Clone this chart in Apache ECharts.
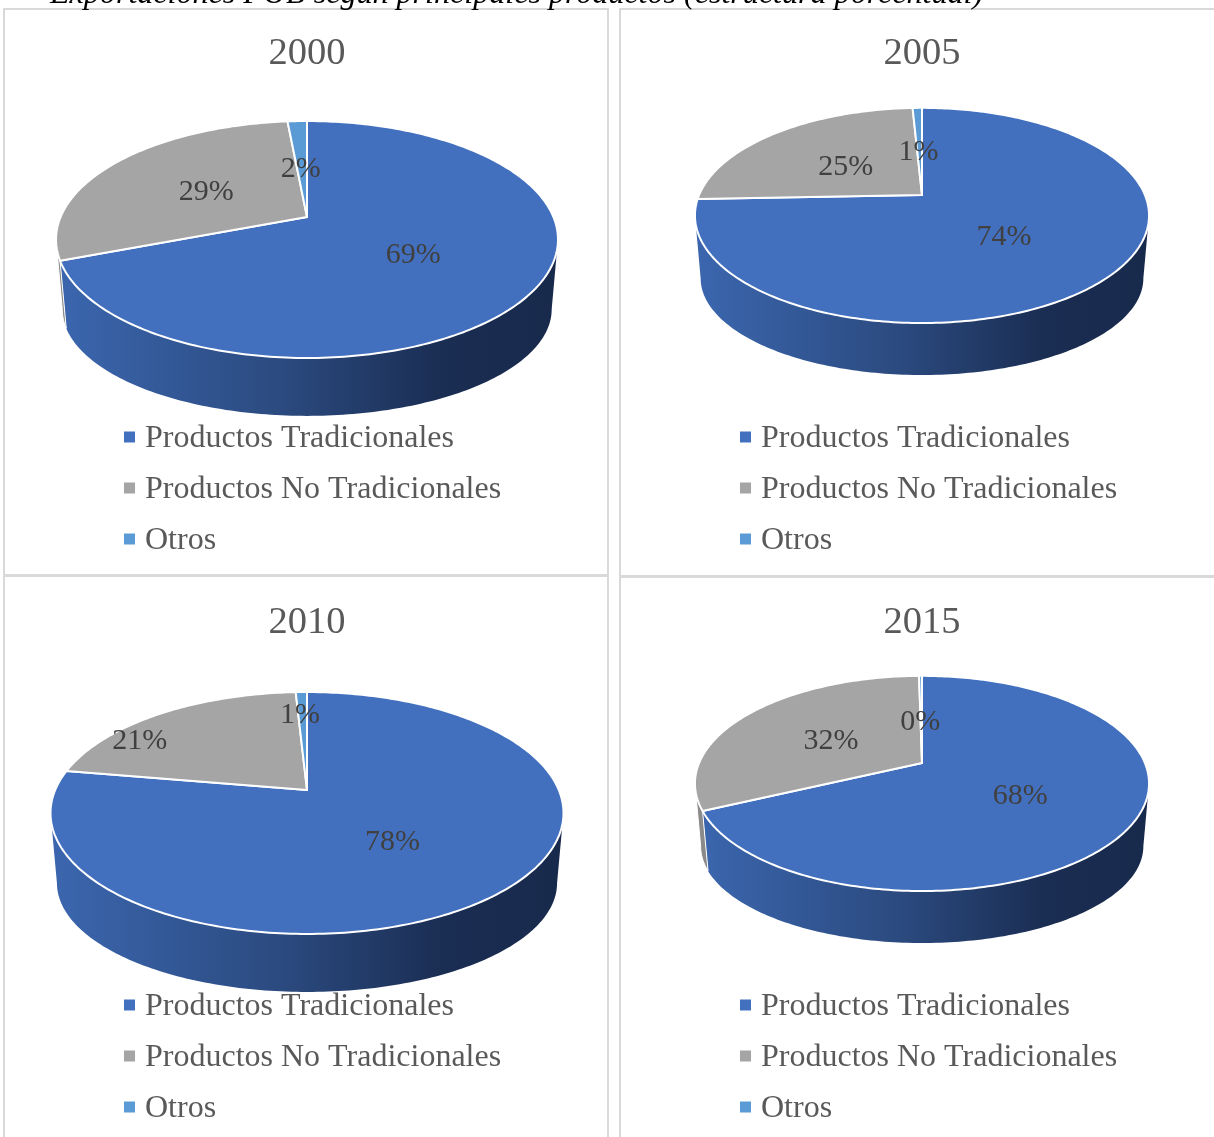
<!DOCTYPE html>
<html>
<head>
<meta charset="utf-8">
<title>Exportaciones FOB</title>
<style>
  html, body { margin: 0; padding: 0; background: #fff; overflow: hidden; }
  #chart { width: 1214px; height: 1137px; }
</style>
<script src="https://cdn.jsdelivr.net/npm/echarts@6/dist/echarts.min.js"></script>
</head>
<body>
<div id="chart"></div>
<script>
  const caption = 'Exportaciones FOB según principales productos (estructura porcentual)';
  const categories = ['Productos Tradicionales', 'Productos No Tradicionales', 'Otros'];
  const years = ['2000', '2005', '2010', '2015'];
  // shares, in %
  const values2000 = [69.2, 29.3, 1.5];
  const values2005 = [74.4, 24.8, 0.8];
  const values2010 = [77.7, 21.45, 0.85];
  const values2015 = [68.0, 31.75, 0.25];
  const valuesByYear = [values2000, values2005, values2010, values2015];

  const FONT = '"Liberation Serif", "Times New Roman", serif';
  const topColors = ['#4270BF', '#A5A5A5', '#5B9BD5'];
  const sideStops = [
    [{ offset: 0, color: '#3B66AE' }, { offset: 0.45, color: '#2B4A7F' }, { offset: 0.78, color: '#1A2D52' }, { offset: 1, color: '#182A4C' }],
    [{ offset: 0, color: '#8A8A8A' }, { offset: 1, color: '#6E6E6E' }],
    [{ offset: 0, color: '#3F78AE' }, { offset: 1, color: '#2F5F8E' }]
  ];

  // k = perspective strength, shrink = how much smaller the bottom rim is
  const k = 0.19;
  const shrinkX = 0.975;
  const shrinkY = 0.9;
  // the rim silhouette touches the side walls here (90 +- asin(k))
  const wallFrom = 101;
  const wallTo = 259;
  const panels = [
    { cx: 307, cy: 217, rx: 246.4, ry: 114.2, depth: 72, titleTop: 34, legendTop: 423 },
    { cx: 922, cy: 195, rx: 222.9, ry: 103.7, depth: 64.8, titleTop: 34, legendTop: 423 },
    { cx: 307, cy: 790, rx: 251.8, ry: 116.6, depth: 72.4, titleTop: 603, legendTop: 991 },
    { cx: 922, cy: 763, rx: 222.9, ry: 103.7, depth: 64.8, titleTop: 603, legendTop: 991 }
  ];
  // a few labels sit away from their slices in the picture
  const labelShift = {
    '1-0': [-3, 0],
    '1-1': [2, 1],
    '2-0': [-1, 0],
    '2-1': [-88, -12],
    '2-2': [-3, -26],
    '3-2': [0, 2]
  };

  // point on the pie disc -> screen. deg runs clockwise from 12 o'clock
  function project(p, deg, r) {
    const a = deg * Math.PI / 180;
    const x = r * Math.sin(a);
    const y = -r * Math.cos(a);
    const w = 1 - k * y;
    return [p.cx + p.rx * x / w, p.cy + p.ry * y / w];
  }

  function lowerRim(p, q) {
    return [p.cx + (q[0] - p.cx) * shrinkX, p.cy + (q[1] - p.cy) * shrinkY + p.depth];
  }

  function sliceItem(panelIndex, sliceIndex) {
    const p = panels[panelIndex];
    const values = valuesByYear[panelIndex];
    let before = 0;
    for (let i = 0; i < sliceIndex; i++) before += values[i];

    return function (params, api) {
      const value = api.value(0);
      const start = before * 3.6;
      const end = (before + value) * 3.6;
      const children = [];

      // side wall, only the part facing the viewer
      const from = Math.max(start, wallFrom);
      const to = Math.min(end, wallTo);
      if (to > from) {
        const rim = [];
        const low = [];
        for (let d = from; d <= to; d += 1) {
          const q = project(p, d, 1);
          rim.push(q);
          low.unshift(lowerRim(p, q));
        }
        const qEnd = project(p, to, 1);
        rim.push(qEnd);
        low.unshift(lowerRim(p, qEnd));
        children.push({
          type: 'polygon',
          z2: 1,
          shape: { points: rim.concat(low) },
          style: {
            fill: new echarts.graphic.LinearGradient(p.cx - p.rx, 0, p.cx + p.rx, 0, sideStops[sliceIndex], true),
            stroke: sliceIndex === 0 ? null : '#fff',
            lineWidth: sliceIndex === 0 ? 0 : 1
          }
        });
      }

      // top face
      const pts = [[p.cx, p.cy]];
      for (let d = start; d < end; d += 1) pts.push(project(p, d, 1));
      pts.push(project(p, end, 1));
      children.push({
        type: 'polygon',
        z2: 10,
        shape: { points: pts },
        style: { fill: topColors[sliceIndex], stroke: '#fff', lineWidth: 2, lineJoin: 'round' }
      });

      // percent label at half radius
      const c = project(p, (start + end) / 2, 0.5);
      const shift = labelShift[panelIndex + '-' + sliceIndex] || [0, 0];
      children.push({
        type: 'text',
        z2: 20,
        x: c[0] - 1 + shift[0],
        y: c[1] + 4 + shift[1],
        style: {
          text: Math.round(value) + '%',
          fontFamily: FONT,
          fontSize: 30,
          fill: '#404040',
          align: 'center',
          verticalAlign: 'middle'
        }
      });

      return { type: 'group', children: children };
    };
  }

  const series = [];
  panels.forEach(function (p, pi) {
    categories.forEach(function (name, si) {
      series.push({
        type: 'custom',
        name: name,
        coordinateSystem: 'none',
        silent: true,
        itemStyle: { color: topColors[si] },
        renderItem: sliceItem(pi, si),
        data: [valuesByYear[pi][si]]
      });
    });
  });

  const titles = years.map(function (y, i) {
    return {
      text: y,
      left: panels[i].cx,
      top: panels[i].titleTop,
      padding: 0,
      textAlign: 'center',
      textStyle: { fontFamily: FONT, fontSize: 38.5, fontWeight: 'normal', color: '#595959' }
    };
  });
  titles.push({
    text: caption,
    left: 50,
    top: -21,
    padding: 0,
    textStyle: { fontFamily: FONT, fontSize: 32.1, fontWeight: 'normal', fontStyle: 'italic', color: '#000' }
  });

  const legends = panels.map(function (p, i) {
    return {
      orient: 'vertical',
      left: i % 2 === 0 ? 124 : 740,
      top: p.legendTop,
      padding: 0,
      itemWidth: 11,
      itemHeight: 11,
      itemGap: 19,
      icon: 'rect',
      selectedMode: false,
      data: categories,
      formatter: '{t|{name}}',
      textStyle: {
        rich: {
          t: { fontFamily: FONT, fontSize: 32, color: '#595959', padding: [4, 0, 0, 5] }
        }
      }
    };
  });

  // panel frames
  const frames = [[4, 9, 604, 566], [620, 9, 600, 567], [4, 576, 604, 570], [620, 577, 600, 570]];

  const chart = echarts.init(document.getElementById('chart'));
  chart.setOption({
    animation: false,
    backgroundColor: '#fff',
    title: titles,
    legend: legends,
    graphic: frames.map(function (f) {
      return {
        type: 'rect',
        silent: true,
        z: 5,
        shape: { x: f[0], y: f[1], width: f[2], height: f[3] },
        style: { fill: 'rgba(255,255,255,0)', stroke: '#D9D9D9', lineWidth: 2 }
      };
    }),
    series: series
  });
</script>
</body>
</html>
